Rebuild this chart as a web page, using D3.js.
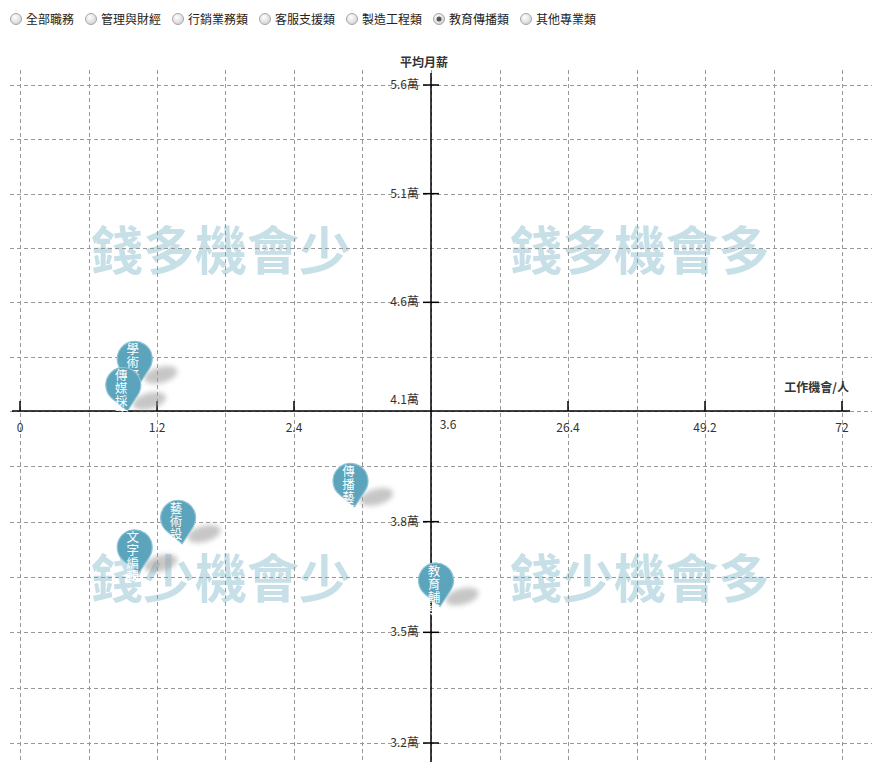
<!DOCTYPE html>
<html><head><meta charset="utf-8">
<script src="https://cdn.jsdelivr.net/npm/d3@7/dist/d3.min.js"></script>
<style>body{margin:0;background:#fff;}svg{display:block;font-family:"Noto Sans CJK TC","Noto Sans",sans-serif;}</style>
</head><body><svg id="c" width="884" height="770"></svg>
<script>
const tabs = ["全部職務","管理與財經","行銷業務類","客服支援類","製造工程類","教育傳播類","其他專業類"];
const selectedTab = "教育傳播類";
const names = ["學術研究","傳媒採訪","傳播藝術","藝術設計","文字編輯","教育輔導"];
const jobs = [1.04, 0.94, 2.93, 1.42, 1.04, 5.1];       // 工作機會/人
const salary = [4.22, 4.10, 3.84, 3.74, 3.66, 3.57];   // 平均月薪 (萬)
const xTicks = [0,1.2,2.4,3.6,26.4,49.2,72];
const yTicks = [3.2,3.5,3.8,4.1,4.6,5.1,5.6];
const quadrants = ["錢多機會少","錢多機會多","錢少機會少","錢少機會多"];

const svg = d3.select("#c");
const x = d3.scaleLinear().domain([0,3.6,72]).range([20,431,842]);
const y = d3.scaleLinear().domain([3.2,4.1,5.6]).range([743,411,85]);

// defs
const defs = svg.append("defs");
const rg = defs.append("radialGradient").attr("id","rb").attr("cx","40%").attr("cy","35%").attr("r","70%");
rg.append("stop").attr("offset","0%").attr("stop-color","#ffffff");
rg.append("stop").attr("offset","100%").attr("stop-color","#d0d0d0");
defs.append("filter").attr("id","blur").attr("x","-50%").attr("y","-50%").attr("width","200%").attr("height","200%")
  .append("feGaussianBlur").attr("stdDeviation",2.5);

// radio tabs
let tx = 16;
const tabG = svg.append("g");
tabs.forEach(t => {
  tabG.append("circle").attr("cx",tx).attr("cy",19).attr("r",5.5).attr("fill","url(#rb)").attr("stroke","#a8a8a8").attr("stroke-width",1);
  if (t === selectedTab) tabG.append("circle").attr("cx",tx).attr("cy",19).attr("r",2.5).attr("fill","#555");
  tabG.append("text").attr("x",tx+10).attr("y",23.5).attr("font-size",12).attr("fill","#222").text(t);
  tx += t.length*12 + 27;
});

// quadrant watermarks
const qx = [221,640,221,640], qy = [270,270,598,598];
svg.append("g").selectAll("text").data(quadrants).join("text")
  .attr("x",(d,i)=>qx[i]).attr("y",(d,i)=>qy[i]).attr("text-anchor","middle")
  .attr("font-size",52).attr("font-weight","bold").attr("fill","#c7e0e8").text(d=>d);

// grid
const xGrid = [];
for (let i=0;i<xTicks.length-1;i++){ xGrid.push(xTicks[i]); xGrid.push((xTicks[i]+xTicks[i+1])/2); }
xGrid.push(xTicks[xTicks.length-1]);
const yGrid = [];
for (let i=0;i<yTicks.length-1;i++){ yGrid.push(yTicks[i]); yGrid.push((yTicks[i]+yTicks[i+1])/2); }
yGrid.push(yTicks[yTicks.length-1]);
const grid = svg.append("g").attr("stroke","#999").attr("stroke-dasharray","4,3").attr("stroke-width",1);
grid.selectAll(".gx").data(xGrid).join("line").attr("x1",d=>Math.round(x(d))+0.5).attr("x2",d=>Math.round(x(d))+0.5).attr("y1",70).attr("y2",762);
grid.selectAll(".gy").data(yGrid).join("line").attr("y1",d=>Math.round(y(d))+0.5).attr("y2",d=>Math.round(y(d))+0.5).attr("x1",10).attr("x2",872);

// axes
const ax = svg.append("g").attr("stroke","#000").attr("stroke-width",1.5);
ax.append("line").attr("x1",12).attr("x2",850).attr("y1",y(4.1)).attr("y2",y(4.1));
ax.append("line").attr("x1",x(3.6)).attr("x2",x(3.6)).attr("y1",73).attr("y2",762);
ax.selectAll(".tx").data(xTicks.filter(d=>d!==3.6)).join("line")
  .attr("x1",d=>x(d)).attr("x2",d=>x(d)).attr("y1",y(4.1)-10).attr("y2",y(4.1));
ax.selectAll(".ty").data(yTicks.filter(d=>d!==4.1)).join("line")
  .attr("y1",d=>y(d)).attr("y2",d=>y(d)).attr("x1",x(3.6)-8).attr("x2",x(3.6)+8);

// tick labels
const lab = svg.append("g").attr("font-size",12).attr("fill","#333");
lab.selectAll(".lx").data(xTicks).join("text")
  .attr("x",d=> d===3.6 ? x(d)+17 : x(d)).attr("y",d=> d===3.6 ? 429 : 432).attr("text-anchor","middle").text(d=>d);
lab.selectAll(".ly").data(yTicks).join("text")
  .attr("x",x(3.6)-12).attr("y",d=> d===4.1 ? y(d)-7 : y(d)+4).attr("text-anchor","end").text(d=>d+"萬");

// axis titles
svg.append("text").attr("x",424).attr("y",67).attr("text-anchor","middle").attr("font-size",12).attr("font-weight","bold").attr("fill","#333").text("平均月薪");
svg.append("text").attr("x",849).attr("y",392).attr("text-anchor","end").attr("font-size",12).attr("font-weight","bold").attr("fill","#333").text("工作機會/人");

// pins
const R = 17.5, ox = -4, oy = -26;
function pinPath(){
  const cx = ox, cy = oy, d = Math.hypot(cx,cy);
  const base = Math.atan2(-cy,-cx);
  const a = Math.acos(R/d);
  const p1 = [cx + R*Math.cos(base+a), cy + R*Math.sin(base+a)];
  const p2 = [cx + R*Math.cos(base-a), cy + R*Math.sin(base-a)];
  return `M0,0 L${p1[0]},${p1[1]} A${R},${R} 0 1 1 ${p2[0]},${p2[1]} Z`;
}
const pts = names.map((n,i)=>({n, x:jobs[i], y:salary[i]}));
const shadows = svg.append("g");
shadows.selectAll("ellipse").data(pts).join("ellipse")
  .attr("transform",d=>`translate(${x(d.x)+22},${y(d.y)-10}) rotate(-15)`)
  .attr("rx",17).attr("ry",8).attr("fill","#999").attr("opacity",0.55).attr("filter","url(#blur)");
const pins = svg.append("g").selectAll("g").data(pts).join("g")
  .attr("transform",d=>`translate(${x(d.x)},${y(d.y)})`);
pins.append("path").attr("d",pinPath()).attr("fill","#5ba4bc").attr("stroke","#8fc4d5").attr("stroke-width",1.2);
pins.each(function(d){
  const g = d3.select(this);
  d.n.split("").forEach((ch,k)=>{
    g.append("text").attr("x",ox-2).attr("y",oy-5+k*13).attr("text-anchor","middle")
      .attr("font-size",12.5).attr("fill","#fff").text(ch);
  });
});
</script></body></html>
